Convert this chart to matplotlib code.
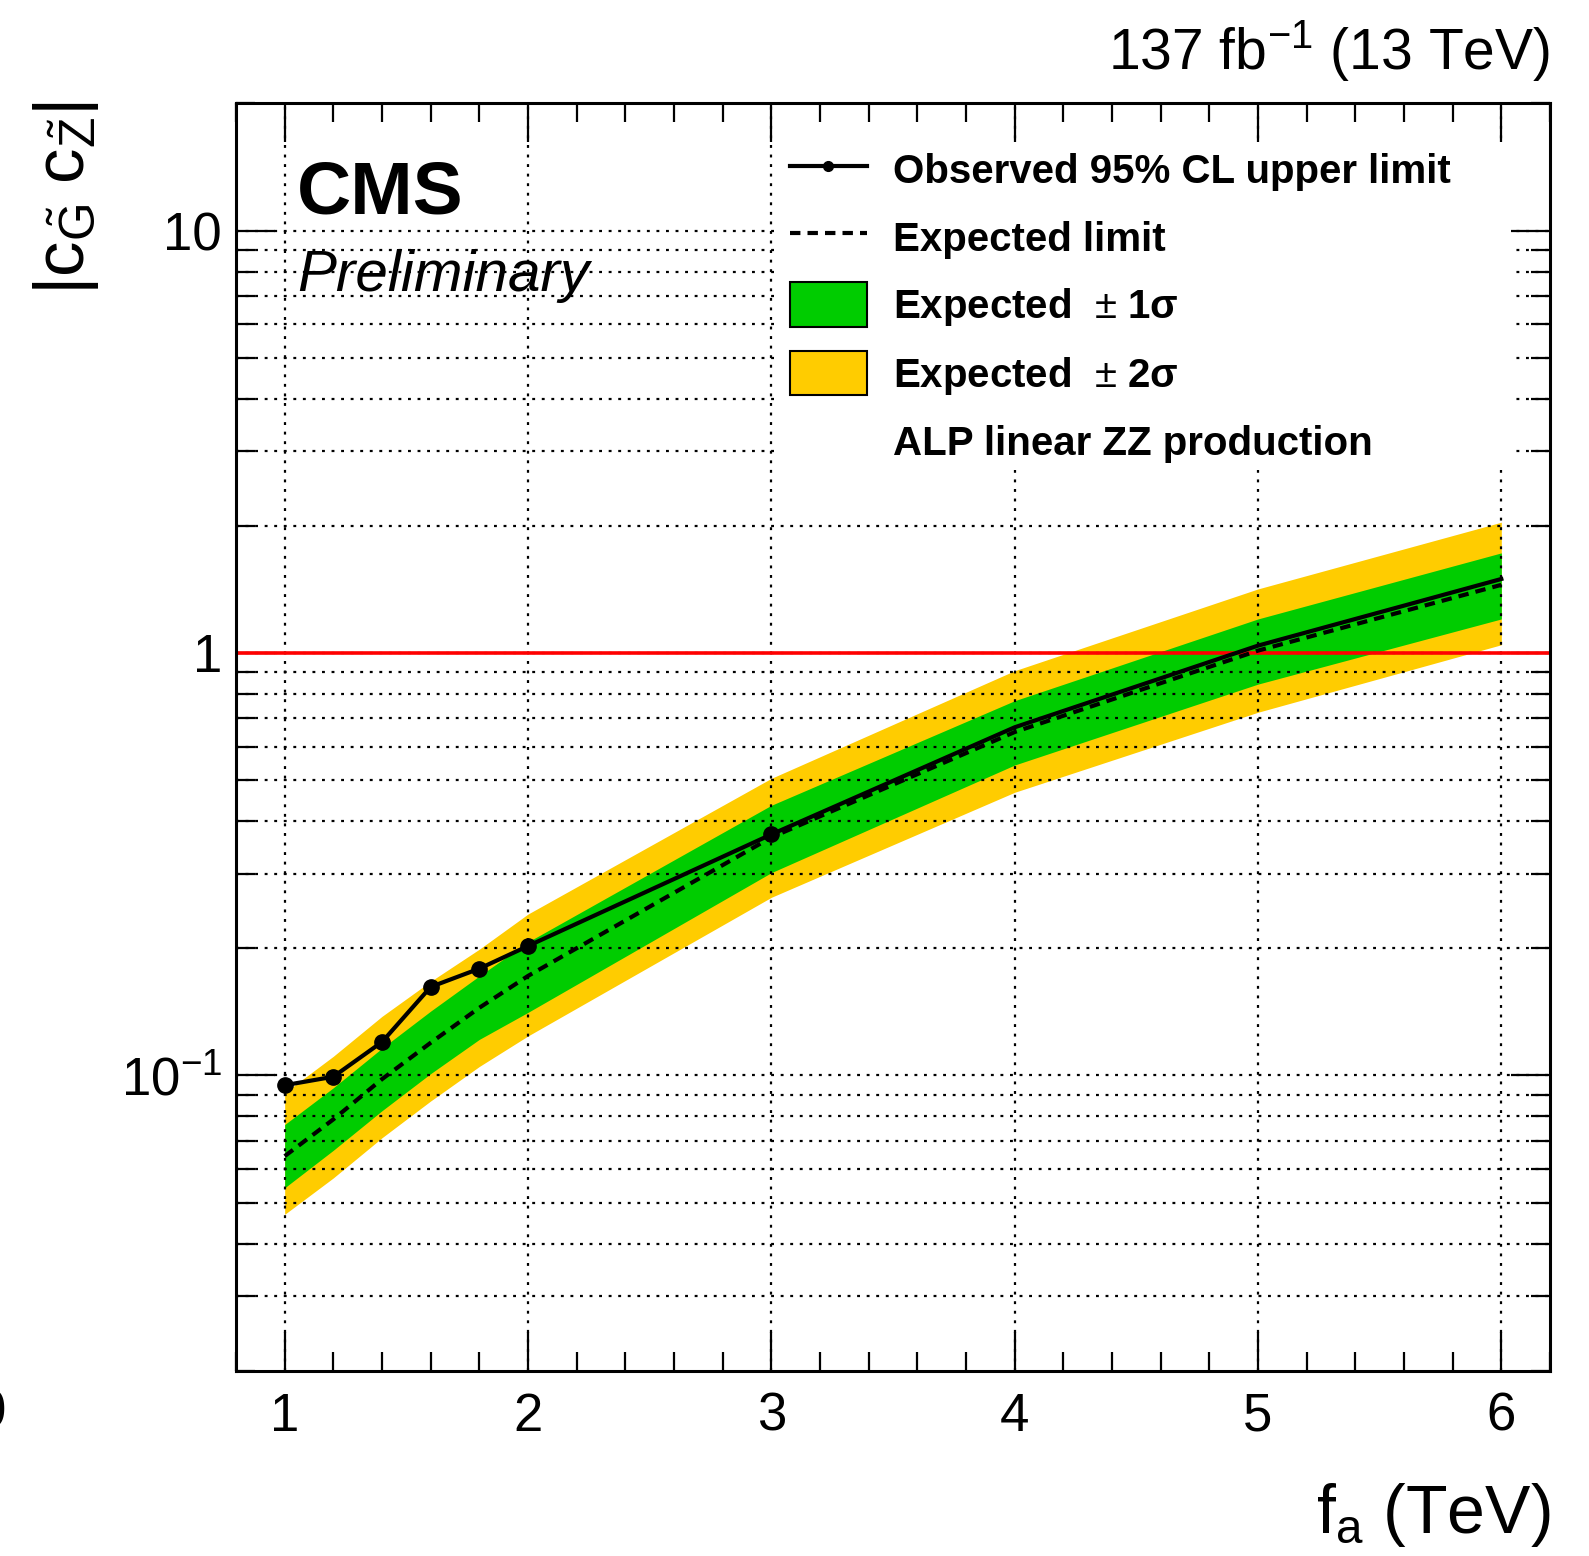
import matplotlib
matplotlib.use('Agg')
import matplotlib.pyplot as plt
from matplotlib.lines import Line2D
from matplotlib.patches import Patch, Rectangle
from matplotlib.ticker import MultipleLocator, LogLocator, FuncFormatter, NullFormatter

plt.rcParams['font.family'] = ['Liberation Sans', 'DejaVu Sans']
plt.rcParams['mathtext.fontset'] = 'custom'
plt.rcParams['mathtext.rm'] = 'Liberation Sans'
plt.rcParams['mathtext.it'] = 'Liberation Sans:italic'
plt.rcParams['mathtext.bf'] = 'Liberation Sans:bold'

# f_a points (TeV)
fa = [1.0, 1.2, 1.4, 1.6, 1.8, 2.0, 3.0, 4.0, 5.0, 6.0]
# observed / expected upper limits on |c_G c_Z|
obs = [0.0948, 0.0993, 0.120, 0.162, 0.179, 0.2025, 0.372, 0.667, 1.041, 1.497]
exp = [0.0644, 0.0787, 0.098, 0.1195, 0.1446, 0.172, 0.366, 0.650, 1.013, 1.45]
# bands
s1_up = [0.0765, 0.0935, 0.116, 0.142, 0.172, 0.207, 0.436, 0.771, 1.204, 1.726]
s1_dn = [0.0542, 0.0665, 0.0825, 0.101, 0.1217, 0.141, 0.302, 0.543, 0.844, 1.204]
s2_up = [0.091, 0.111, 0.138, 0.167, 0.199, 0.241, 0.505, 0.908, 1.418, 2.04]
s2_dn = [0.0469, 0.0572, 0.0712, 0.0870, 0.105, 0.124, 0.264, 0.468, 0.724, 1.046]

green = '#00cc00'
yellow = '#ffcc00'

W, H = 1589, 1556
fig = plt.figure(figsize=(W / 100, H / 100), dpi=100)
ax = fig.add_axes([236 / W, 1 - 1370.7 / H, 1314 / W, 1267.3 / H])

dash = (0, (2.5, 1.7))
ax.fill_between(fa, s2_dn, s2_up, color=yellow, lw=0, zorder=1)
ax.fill_between(fa, s1_dn, s1_up, color=green, lw=0, zorder=1.1)
ax.axhline(1.0, color='red', lw=2.6, zorder=3)
ax.plot(fa, exp, color='black', lw=3, ls=dash, zorder=4)
ax.plot(fa, obs, color='black', lw=3, marker='o', ms=11, markevery=list(range(7)), zorder=5)

ax.set_xlim(0.8, 6.2)
ax.set_yscale('log')
ax.set_ylim(0.02, 20)

ax.xaxis.set_major_locator(MultipleLocator(1))
ax.xaxis.set_minor_locator(MultipleLocator(0.2))
ax.yaxis.set_major_locator(LogLocator(base=10))
ax.yaxis.set_minor_locator(LogLocator(base=10, subs=range(2, 10)))
ax.yaxis.set_minor_formatter(NullFormatter())

def ylab(v, pos):
    if abs(v - 1) < 1e-9:
        return '1'
    if abs(v - 10) < 1e-9:
        return '10'
    if abs(v - 0.1) < 1e-9:
        return r'$10^{-1}$'
    return ''

ax.yaxis.set_major_formatter(FuncFormatter(ylab))
ax.xaxis.set_major_formatter(FuncFormatter(lambda v, p: '%d' % round(v)))

# dotted grid, drawn by hand so the legend box can hide it while ticks stay on top
dots = (0, (1.3, 3.0))
x0, x1 = ax.get_xlim()
y0, y1 = ax.get_ylim()
for xv in ax.xaxis.get_majorticklocs():
    if x0 < xv < x1:
        ax.axvline(xv, color='black', lw=1.6, ls=dots, zorder=1.5)
ylocs = list(ax.yaxis.get_majorticklocs()) + list(ax.yaxis.get_minorticklocs())
for yv in ylocs:
    if y0 < yv < y1:
        ax.axhline(yv, color='black', lw=1.6, ls=dots, zorder=1.5)
ax.set_axisbelow(False)

# white legend background
ax.add_patch(Rectangle((0.410, 0.7107), 0.561, 0.26, transform=ax.transAxes,
                       facecolor='white', edgecolor='none', zorder=1.6))

ax.tick_params(which='both', direction='in', top=True, right=True, width=1.6, labelsize=38)
ax.tick_params(which='major', length=28)
ax.tick_params(which='minor', length=14)
ax.tick_params(axis='x', pad=15)
ax.tick_params(axis='y', pad=10)
for s in ax.spines.values():
    s.set_linewidth(2.2)
    s.set_zorder(6)

# legend
handles = [
    Line2D([], [], color='black', lw=3, marker='o', ms=7),
    Line2D([], [], color='black', lw=3, ls=dash),
    Patch(facecolor=green, edgecolor='black', lw=1.5),
    Patch(facecolor=yellow, edgecolor='black', lw=1.5),
    Patch(facecolor='none', edgecolor='none'),
]
labels = ['Observed 95% CL upper limit', 'Expected limit',
          'Expected  $\\pm$ 1\u03c3', 'Expected  $\\pm$ 2\u03c3',
          'ALP linear ZZ production']
ax.legend(handles, labels, loc='upper left', bbox_to_anchor=(0.4216, 0.965),
          frameon=False, borderpad=0, borderaxespad=0,
          handlelength=1.9, handleheight=1.31, handletextpad=0.67,
          labelspacing=0.575, prop={'weight': 'bold', 'size': 29})

# texts
fig.text(297 / W, 1 - 213 / H, 'CMS', fontsize=54, fontweight='bold', ha='left', va='baseline')
fig.text(297 / W, 1 - 291 / H, 'Preliminary', fontsize=42, style='italic', ha='left', va='baseline')
fig.text(1550 / W, 1 - 69 / H, r'137 fb$^{\mathrm{-1}}$ (13 TeV)', fontsize=41, ha='right', va='baseline')
fig.text(1550 / W, 1 - 1533 / H, r'f$_{\mathrm{a}}$ (TeV)', fontsize=49, ha='right', va='baseline')
fig.text(66 / W, 1 - 101 / H, r'$|\mathrm{c}_{\tilde{\mathrm{G}}}\;\mathrm{c}_{\tilde{\mathrm{Z}}}|$',
         fontsize=51, rotation=90, ha='center', va='top')
fig.text(-8 / W, 1 - 1414 / H, '0', fontsize=38, ha='center', va='center')

fig.savefig('out.png', dpi=100)
